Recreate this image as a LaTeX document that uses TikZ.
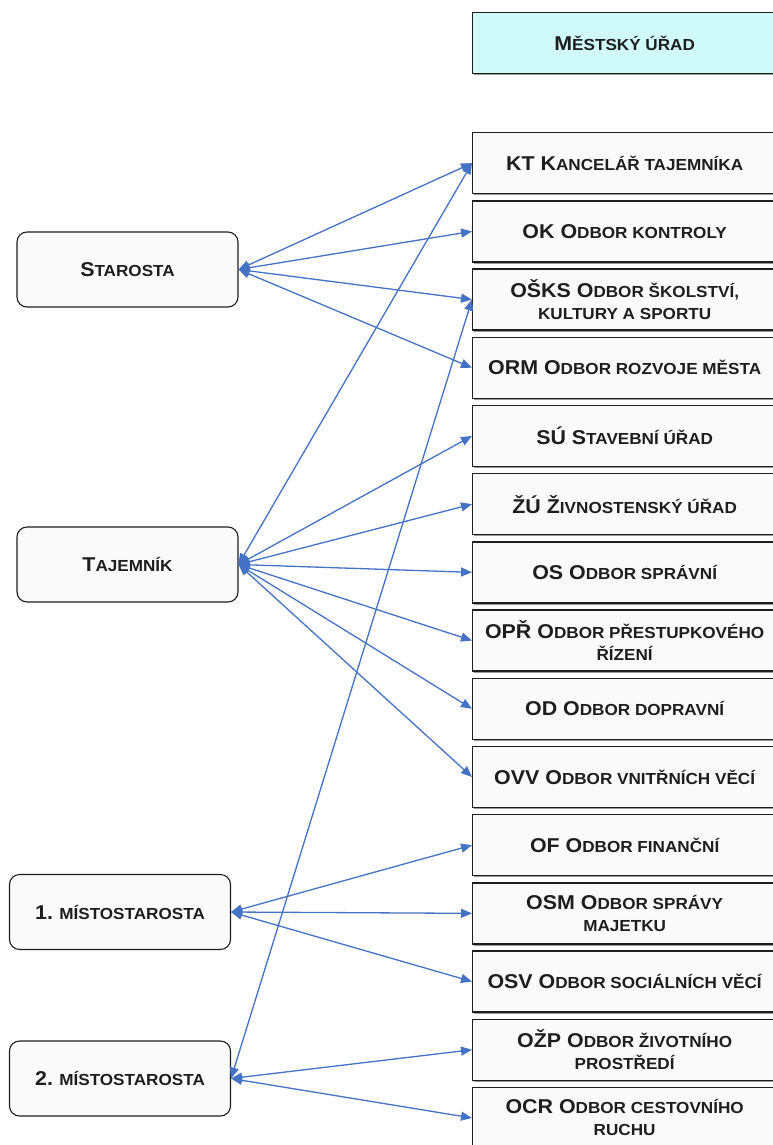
\documentclass[tikz,border=0pt]{standalone}
\usepackage{fontspec}
\setmainfont{Liberation Sans}[FakeStretch=1.07]
\usetikzlibrary{arrows.meta,shadows}

\definecolor{linkblue}{RGB}{68,114,196}
\definecolor{boxfill}{RGB}{250,250,250}
\definecolor{headfill}{RGB}{208,250,250}
\definecolor{ink}{RGB}{30,30,30}

% capitals and small capitals of the labels
\newcommand\bigc[1]{{\fontsize{20}{22}\selectfont #1}}
\newcommand\smlc[1]{{\fontsize{16}{22}\selectfont #1}}

\begin{document}
\begin{tikzpicture}[x=1pt,y=-1pt,
  box/.style={draw=ink, line width=1.3pt, fill=boxfill, inner sep=0pt,
    align=center, font=\bfseries\fontsize{16}{22}\selectfont, text=ink},
  dept/.style={box, anchor=north west, minimum width=304pt, minimum height=61pt,
    drop shadow={shadow xshift=1.8pt, shadow yshift=-1.8pt, fill=black!40, opacity=1}},
  head/.style={dept, fill=headfill},
  lead/.style={box, rounded corners=10pt, minimum width=221pt, minimum height=75pt,
    line width=1.1pt},
  link/.style={draw=linkblue, line width=1.3pt,
    {Triangle[length=11pt,width=9pt]}-{Triangle[length=11pt,width=9pt]}}
]
\useasboundingbox (0,0) rectangle (773,1145);
\clip (0,0) rectangle (773,1145);

% municipal office
\node[head] (mu) at (472,12) {\bigc{M}\smlc{ĚSTSKÝ ÚŘAD}};

% departments
\node[dept] (kt)   at (472,132.0)  {\bigc{KT K}\smlc{ANCELÁŘ TAJEMNÍKA}};
\node[dept] (ok)   at (472,200.2)  {\bigc{OK O}\smlc{DBOR KONTROLY}};
\node[dept] (osks) at (472,268.4)  {\bigc{OŠKS O}\smlc{DBOR ŠKOLSTVÍ,}\\\smlc{KULTURY A SPORTU}};
\node[dept] (orm)  at (472,336.6)  {\bigc{ORM O}\smlc{DBOR ROZVOJE MĚSTA}};
\node[dept] (su)   at (472,404.8)  {\bigc{SÚ S}\smlc{TAVEBNÍ ÚŘAD}};
\node[dept] (zu)   at (472,473.0)  {\bigc{ŽÚ Ž}\smlc{IVNOSTENSKÝ ÚŘAD}};
\node[dept] (os)   at (472,541.2)  {\bigc{OS O}\smlc{DBOR SPRÁVNÍ}};
\node[dept] (opr)  at (472,609.4)  {\bigc{OPŘ O}\smlc{DBOR PŘESTUPKOVÉHO}\\\smlc{ŘÍZENÍ}};
\node[dept] (od)   at (472,677.6)  {\bigc{OD O}\smlc{DBOR DOPRAVNÍ}};
\node[dept] (ovv)  at (472,745.8)  {\bigc{OVV O}\smlc{DBOR VNITŘNÍCH VĚCÍ}};
\node[dept] (of)   at (472,814.0)  {\bigc{OF O}\smlc{DBOR FINANČNÍ}};
\node[dept] (osm)  at (472,882.2)  {\bigc{OSM O}\smlc{DBOR SPRÁVY}\\\smlc{MAJETKU}};
\node[dept] (osv)  at (472,950.4)  {\bigc{OSV O}\smlc{DBOR SOCIÁLNÍCH VĚCÍ}};
\node[dept] (ozp)  at (472,1018.6) {\bigc{OŽP O}\smlc{DBOR ŽIVOTNÍHO}\\\smlc{PROSTŘEDÍ}};
\node[dept] (ocr)  at (472,1086.8) {\bigc{OCR O}\smlc{DBOR CESTOVNÍHO}\\\smlc{RUCHU}};

% leadership
\node[lead] (star) at (127.5,269.5) {\bigc{S}\smlc{TAROSTA}};
\node[lead] (taj)  at (127.5,564.5) {\bigc{T}\smlc{AJEMNÍK}};
\node[lead] (m1)   at (120,912)     {\bigc{1.} \smlc{MÍSTOSTAROSTA}};
\node[lead] (m2)   at (120,1078.5)  {\bigc{2.} \smlc{MÍSTOSTAROSTA}};

% reporting lines
\foreach \d in {kt,ok,osks,orm}
  \draw[link] (star.east) -- (\d.west);
\foreach \d in {kt,su,zu,os,opr,od,ovv}
  \draw[link] (taj.east) -- (\d.west);
\foreach \d in {of,osm,osv}
  \draw[link] (m1.east) -- (\d.west);
\foreach \d in {osks,ozp,ocr}
  \draw[link] (m2.east) -- (\d.west);
\end{tikzpicture}
\end{document}
